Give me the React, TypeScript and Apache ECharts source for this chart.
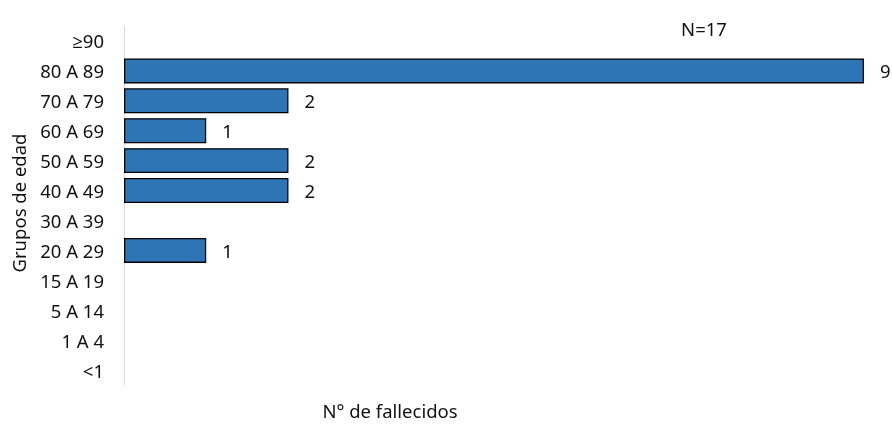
import React, { useEffect, useRef } from "react";
import * as echarts from "echarts";

const categories = ["<1", "1 A 4", "5 A 14", "15 A 19", "20 A 29", "30 A 39", "40 A 49", "50 A 59", "60 A 69", "70 A 79", "80 A 89", "≥90"];
const values = [0, 0, 0, 0, 1, 0, 2, 2, 1, 2, 9, 0];
const titleText = "N=17";
const xName = "N° de fallecidos";
const yName = "Grupos de edad";

const FONT = "'Noto Sans', 'Open Sans', sans-serif";
const FS = 18.5;
const TXT = "#111111";

export default function App() {
  const ref = useRef<HTMLDivElement>(null);
  useEffect(() => {
    if (!ref.current) return;
    const chart = echarts.init(ref.current, undefined, { renderer: "svg" });
    chart.setOption({
      animation: false,
      grid: { left: 124, right: 28, top: 26, bottom: 41, containLabel: false },
      xAxis: {
        type: "value",
        min: 0,
        max: 9,
        axisLine: { show: false },
        axisTick: { show: false },
        axisLabel: { show: false },
        splitLine: { show: false },
      },
      yAxis: {
        type: "category",
        data: categories,
        axisLine: { show: true, lineStyle: { color: "#d9d9d9", width: 1 } },
        axisTick: { show: false },
        axisLabel: { color: TXT, fontSize: FS, fontFamily: FONT, margin: 20 },
      },
      series: [
        {
          type: "bar",
          data: values.map((v) => ({ value: v, itemStyle: v === 0 ? { borderWidth: 0, opacity: 0 } : undefined })),
          barWidth: 25,
          itemStyle: { color: "#2e75b6", borderColor: "#000", borderWidth: 1.3 },
          label: {
            show: true,
            position: "right",
            distance: 16,
            color: TXT,
            fontSize: FS,
            fontFamily: FONT,
            formatter: (p: any) => (p.value ? String(p.value) : ""),
          },
        },
      ],
      graphic: [
        {
          type: "text",
          x: 704,
          y: 28,
          style: { text: titleText, fill: TXT, fontSize: FS, fontFamily: FONT, align: "center", verticalAlign: "middle" },
        },
        {
          type: "text",
          x: 390,
          y: 410,
          style: { text: xName, fill: TXT, fontSize: FS, fontFamily: FONT, align: "center", verticalAlign: "middle" },
        },
        {
          type: "text",
          x: 18,
          y: 203,
          rotation: Math.PI / 2,
          style: { text: yName, fill: TXT, fontSize: FS, fontFamily: FONT, align: "center", verticalAlign: "middle" },
        },
      ],
    });
    return () => chart.dispose();
  }, []);
  return <div ref={ref} style={{ position: "fixed", left: 0, top: 0, width: 892, height: 426 }} />;
}
